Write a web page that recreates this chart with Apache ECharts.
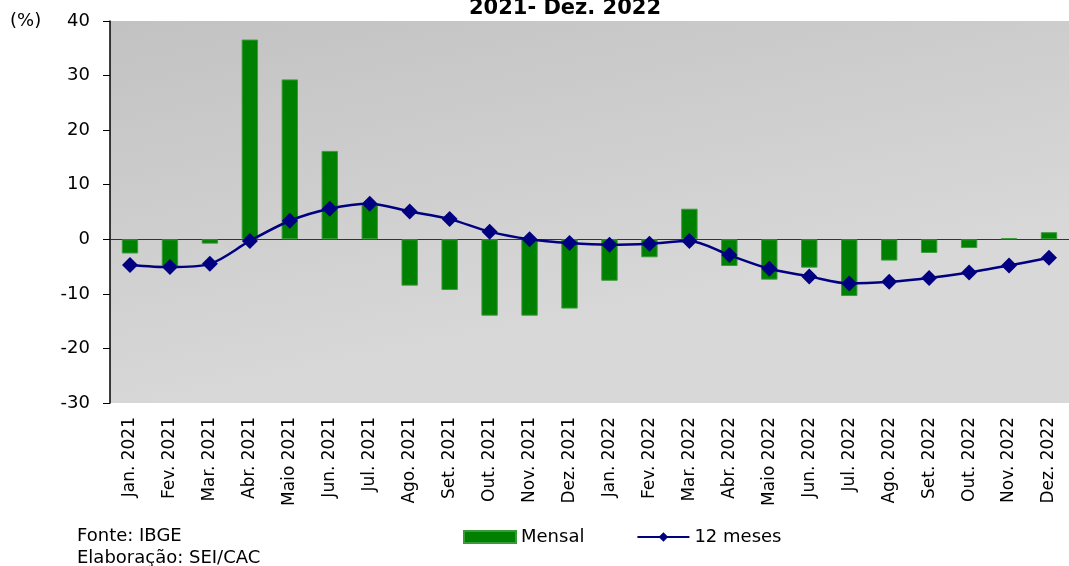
<!DOCTYPE html>
<html>
<head>
<meta charset="utf-8">
<script src="https://cdn.jsdelivr.net/npm/echarts@6/dist/echarts.min.js"></script>
<style>
  html, body { margin: 0; padding: 0; background: #fff; }
  #chart { width: 1069px; height: 566px; }
</style>
</head>
<body>
<div id="chart"></div>
<script>
// meses do período
const meses = [
  'Jan. 2021', 'Fev. 2021', 'Mar. 2021', 'Abr. 2021', 'Maio 2021', 'Jun. 2021',
  'Jul. 2021', 'Ago. 2021', 'Set. 2021', 'Out. 2021', 'Nov. 2021', 'Dez. 2021',
  'Jan. 2022', 'Fev. 2022', 'Mar. 2022', 'Abr. 2022', 'Maio 2022', 'Jun. 2022',
  'Jul. 2022', 'Ago. 2022', 'Set. 2022', 'Out. 2022', 'Nov. 2022', 'Dez. 2022'
]
// variação mensal (%)
const mensal = [
  -2.6, -4.9, -0.8, 36.6, 29.3, 16.2,
  6.3, -8.5, -9.3, -14.0, -14.0, -12.7,
  -7.6, -3.3, 5.6, -4.9, -7.4, -5.2,
  -10.4, -3.9, -2.5, -1.6, 0.2, 1.3
]
// acumulado 12 meses (%)
const dozeMeses = [
  -4.7, -5.1, -4.5, -0.3, 3.4, 5.6,
  6.5, 5.1, 3.7, 1.4, 0.0, -0.7,
  -1.0, -0.8, -0.3, -2.9, -5.4, -6.8,
  -8.1, -7.8, -7.1, -6.1, -4.8, -3.4
]

const fonte = 'DejaVu Sans'
const chart = echarts.init(document.getElementById('chart'))

// mesma área para os três grids (o 2º e o 3º só desenham rótulos e marcas)
const area = { left: 110, top: 21, width: 968, height: 382 }
const eixoY = { type: 'value', min: -30, max: 40, interval: 10 }

const option = {
  animation: false,
  textStyle: { fontFamily: fonte, color: '#000' },
  title: {
    text: '2021- Dez. 2022',
    left: 560,
    textAlign: 'center',
    top: -7,
    textStyle: { fontFamily: fonte, fontSize: 21, fontWeight: 'bold', color: '#000' }
  },
  legend: {
    left: 463,
    top: 528,
    padding: 0,
    itemWidth: 52,
    itemHeight: 12,
    itemGap: 52,
    textStyle: { fontFamily: fonte, fontSize: 18, color: '#000' },
    data: [
      { name: 'Mensal', icon: 'rect' },
      { name: '12 meses' }
    ]
  },
  grid: [
    { ...area },
    { ...area },
    { ...area }
  ],
  xAxis: [
    {
      // linha do zero, marcas para baixo
      type: 'category',
      gridIndex: 0,
      data: meses,
      position: 'bottom',
      axisLine: { onZero: true, lineStyle: { color: '#333', width: 1 } },
      axisTick: { length: 6, lineStyle: { color: '#333' } },
      axisLabel: { show: false }
    },
    {
      // rótulos dos meses embaixo
      type: 'category',
      gridIndex: 1,
      data: meses,
      position: 'bottom',
      axisLine: { show: false, onZero: false },
      axisTick: { show: false },
      axisLabel: { rotate: 90, margin: 14, fontSize: 17, color: '#000', fontFamily: fonte }
    },
    {
      // marcas para cima
      type: 'category',
      gridIndex: 2,
      data: meses,
      position: 'bottom',
      axisLine: { onZero: true, lineStyle: { color: '#333', width: 1 } },
      axisTick: { inside: true, length: 6, lineStyle: { color: '#333' } },
      axisLabel: { show: false }
    }
  ],
  yAxis: [
    {
      ...eixoY,
      gridIndex: 0,
      axisLine: { show: true, onZero: false, lineStyle: { color: '#000', width: 1.5 } },
      axisTick: { show: true, length: 7, lineStyle: { color: '#000' } },
      axisLabel: { margin: 20, fontSize: 18, color: '#000', fontFamily: fonte },
      splitLine: { show: false }
    },
    { ...eixoY, gridIndex: 1, show: false, splitLine: { show: false } },
    { ...eixoY, gridIndex: 2, show: false, splitLine: { show: false } }
  ],
  graphic: [
    {
      // fundo cinza da área do gráfico
      type: 'rect',
      left: 110,
      top: 21,
      z: -10,
      silent: true,
      shape: { width: 968, height: 382 },
      style: {
        fill: {
          type: 'linear', x: 0, y: 0, x2: 0.08, y2: 1,
          colorStops: [
            { offset: 0, color: '#c2c2c2' },
            { offset: 1, color: '#d8d8d8' }
          ]
        },
        lineWidth: 0
      }
    },
    { type: 'text', left: 10, top: 12, style: { text: '(%)', font: '18px "DejaVu Sans"', fill: '#000' } },
    { type: 'text', left: 77, top: 527, style: { text: 'Fonte: IBGE', font: '18px "DejaVu Sans"', fill: '#000' } },
    { type: 'text', left: 77, top: 549, style: { text: 'Elaboração: SEI/CAC', font: '18px "DejaVu Sans"', fill: '#000' } }
  ],
  series: [
    {
      name: 'Mensal',
      type: 'bar',
      data: mensal,
      barWidth: '41%',
      itemStyle: { color: '#008000', borderColor: '#3a9a3a', borderWidth: 1 }
    },
    {
      name: '12 meses',
      type: 'line',
      data: dozeMeses,
      smooth: 0.3,
      symbol: 'diamond',
      symbolSize: 16,
      lineStyle: { color: '#000080', width: 2.5 },
      itemStyle: { color: '#000080' }
    }
  ]
}

chart.setOption(option)
</script>
</body>
</html>
